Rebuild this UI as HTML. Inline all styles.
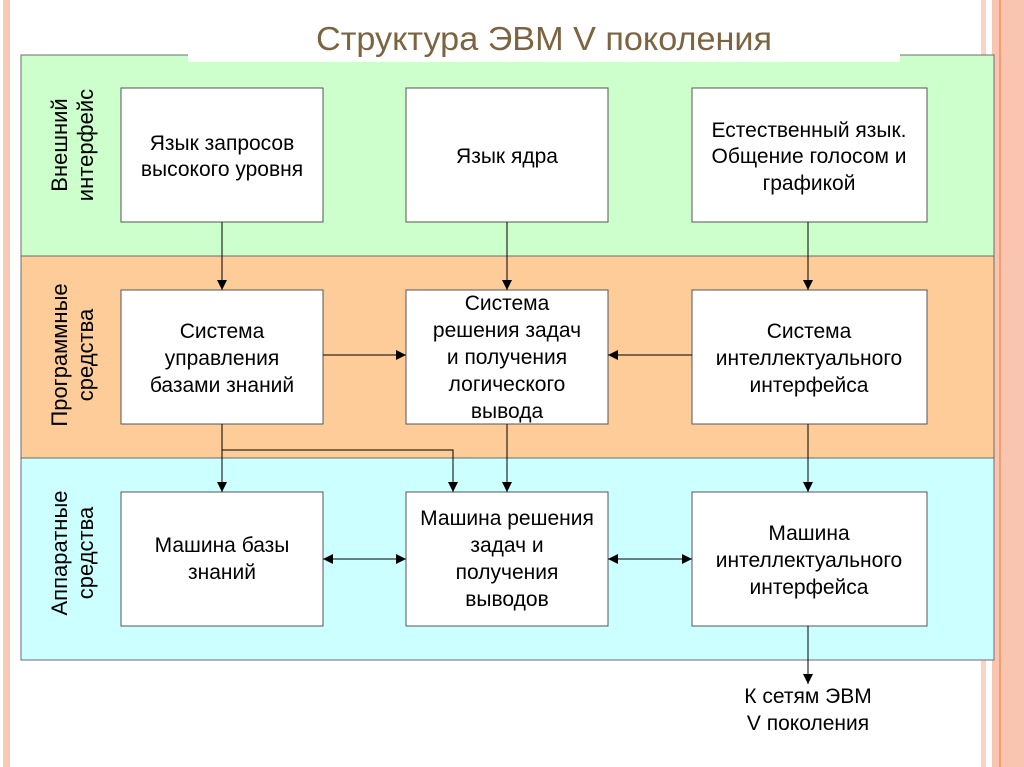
<!DOCTYPE html>
<html><head><meta charset="utf-8"><style>
html,body{margin:0;padding:0;background:#fff;}
svg{display:block;}
text{font-family:"Liberation Sans",sans-serif;}
</style></head><body>
<svg width="1024" height="767" viewBox="0 0 1024 767">
<defs><marker id="a" markerWidth="10" markerHeight="12" refX="10" refY="6" orient="auto" markerUnits="userSpaceOnUse"><path d="M0,1 L10,6 L0,11 Z" fill="#000"/></marker>
<marker id="b" markerWidth="10" markerHeight="12" refX="0" refY="6" orient="auto" markerUnits="userSpaceOnUse"><path d="M10,1 L0,6 L10,11 Z" fill="#000"/></marker></defs>
<rect x="3" y="0" width="7" height="767" fill="#f7c8b6"/>
<rect x="981" y="0" width="5" height="767" fill="#fbd3c4"/>
<rect x="992" y="0" width="32" height="767" fill="#f9c4b0"/>
<rect x="999" y="0" width="2" height="767" fill="#f0a070"/>
<rect x="21" y="55" width="973" height="201" fill="#ccffcc" stroke="#6b6b6b"/>
<rect x="21" y="256" width="973" height="202" fill="#fdcc99" stroke="#6b6b6b"/>
<rect x="21" y="458" width="973" height="202" fill="#ccffff" stroke="#6b6b6b"/>
<rect x="188" y="0" width="712" height="62" fill="#fff"/>
<text x="544" y="50" font-size="33" fill="#7d6440" text-anchor="middle" textLength="456" lengthAdjust="spacingAndGlyphs">Структура ЭВМ V поколения</text>
<g font-size="22" text-anchor="middle" fill="#000">
<text transform="translate(67,145) rotate(-90)">Внешний</text>
<text transform="translate(93,145) rotate(-90)">интерфейс</text>
<text transform="translate(67,355) rotate(-90)">Программные</text>
<text transform="translate(93,355) rotate(-90)">средства</text>
<text transform="translate(67,553) rotate(-90)">Аппаратные</text>
<text transform="translate(93,553) rotate(-90)">средства</text>
</g>
<g fill="#fff" stroke="#555" stroke-width="1">
<rect x="121" y="88" width="202" height="134"/><rect x="406" y="88" width="202" height="134"/><rect x="692" y="88" width="235" height="134"/>
<rect x="121" y="290" width="202" height="134"/><rect x="406" y="290" width="202" height="134"/><rect x="692" y="290" width="235" height="134"/>
<rect x="121" y="492" width="202" height="134"/><rect x="406" y="492" width="202" height="134"/><rect x="692" y="492" width="235" height="134"/>
</g>
<g font-size="21" text-anchor="middle" fill="#000">
<text x="222" y="150">Язык запросов</text><text x="222" y="176">высокого уровня</text>
<text x="507" y="163">Язык ядра</text>
<text x="809" y="137">Естественный язык.</text><text x="809" y="163">Общение голосом и</text><text x="809" y="190">графикой</text>
<text x="222" y="338">Система</text><text x="222" y="365">управления</text><text x="222" y="392">базами знаний</text>
<text x="507" y="310">Система</text><text x="507" y="337">решения задач</text><text x="507" y="364">и получения</text><text x="507" y="391">логического</text><text x="507" y="418">вывода</text>
<text x="809" y="338">Система</text><text x="809" y="365">интеллектуального</text><text x="809" y="392">интерфейса</text>
<text x="222" y="552">Машина базы</text><text x="222" y="579">знаний</text>
<text x="507" y="525">Машина решения</text><text x="507" y="552">задач и</text><text x="507" y="579">получения</text><text x="507" y="606">выводов</text>
<text x="809" y="540">Машина</text><text x="809" y="567">интеллектуального</text><text x="809" y="594">интерфейса</text>
<text x="808" y="703">К сетям ЭВМ</text><text x="808" y="730">V поколения</text>
</g>
<g stroke="#000" stroke-width="1" fill="none">
<line x1="222" y1="222" x2="222" y2="290" marker-end="url(#a)"/>
<line x1="507" y1="222" x2="507" y2="290" marker-end="url(#a)"/>
<line x1="808" y1="222" x2="808" y2="290" marker-end="url(#a)"/>
<line x1="323" y1="355" x2="406" y2="355" marker-end="url(#a)"/>
<line x1="692" y1="355" x2="608" y2="355" marker-end="url(#a)"/>
<line x1="222" y1="424" x2="222" y2="492" marker-end="url(#a)"/>
<polyline points="222,450 453,450 453,492" marker-end="url(#a)"/>
<line x1="507" y1="424" x2="507" y2="492" marker-end="url(#a)"/>
<line x1="808" y1="424" x2="808" y2="492" marker-end="url(#a)"/>
<line x1="323" y1="559" x2="406" y2="559" marker-start="url(#b)" marker-end="url(#a)"/>
<line x1="608" y1="559" x2="692" y2="559" marker-start="url(#b)" marker-end="url(#a)"/>
<line x1="808" y1="626" x2="808" y2="684" marker-end="url(#a)"/>
</g>
</svg>
</body></html>
